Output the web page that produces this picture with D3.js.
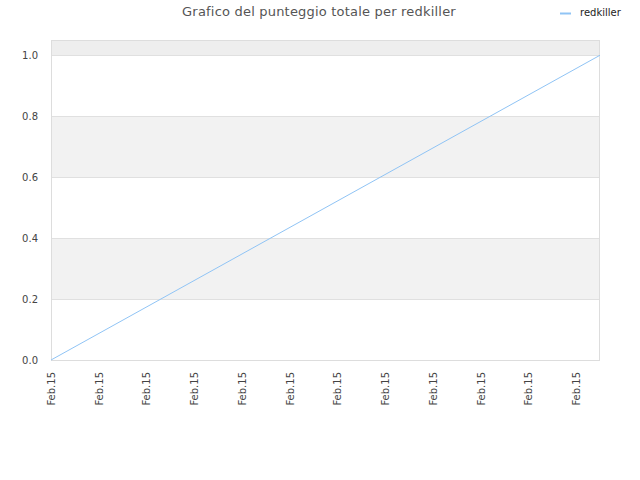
<!DOCTYPE html>
<html>
<head>
<meta charset="utf-8">
<script src="https://cdn.jsdelivr.net/npm/d3@7"></script>
<style>
  body { margin: 0; background: #fff; }
  text { font-family: "DejaVu Sans", sans-serif; }
</style>
</head>
<body>
<script>
// tick labels along the x axis (all the same day)
const xLabels = ['Feb.15','Feb.15','Feb.15','Feb.15','Feb.15','Feb.15',
                 'Feb.15','Feb.15','Feb.15','Feb.15','Feb.15','Feb.15'];
// series: position (in tick units) and score
const seriesX = [0, 11.5];
const seriesY = [0, 1];
const yTicks = [0, 0.2, 0.4, 0.6, 0.8, 1.0];
const seriesName = 'redkiller';

const width = 640, height = 480;
const plotLeft = 51, plotRight = 600, plotTop = 40, plotBottom = 360;

const svg = d3.select('body').append('svg')
  .attr('width', width)
  .attr('height', height);

const x = d3.scaleLinear().domain([0, 11.5]).range([plotLeft, plotRight]);
const y = d3.scaleLinear().domain([0, 1.05]).range([plotBottom, plotTop]);

// alternating bands
const bands = [[0.2, 0.4, '#f2f2f2'], [0.6, 0.8, '#f2f2f2'], [1.0, 1.05, '#eeeeee']];
svg.selectAll('rect.band')
  .data(bands)
  .enter()
  .append('rect')
  .attr('x', plotLeft)
  .attr('width', plotRight - plotLeft)
  .attr('y', d => y(d[1]))
  .attr('height', d => y(d[0]) - y(d[1]))
  .attr('fill', d => d[2]);

// grid lines
svg.selectAll('line.grid')
  .data(yTicks)
  .enter()
  .append('line')
  .attr('x1', plotLeft)
  .attr('x2', plotRight)
  .attr('y1', d => Math.round(y(d)) + 0.5)
  .attr('y2', d => Math.round(y(d)) + 0.5)
  .attr('stroke', '#e0e0e0');

// frame
svg.append('rect')
  .attr('x', plotLeft + 0.5)
  .attr('y', plotTop + 0.5)
  .attr('width', plotRight - plotLeft - 1)
  .attr('height', plotBottom - plotTop)
  .attr('fill', 'none')
  .attr('stroke', '#dddddd');

// y axis labels
const yAxis = svg.append('g')
  .attr('transform', `translate(${plotLeft},0)`)
  .call(d3.axisLeft(y).tickValues(yTicks).tickFormat(d3.format('.1f')).tickSize(0).tickPadding(13));
yAxis.select('.domain').remove();
yAxis.selectAll('text')
  .attr('fill', '#444')
  .style('font-size', '10px');

// x axis labels
const xAxis = svg.append('g')
  .attr('transform', `translate(0,${plotBottom})`)
  .call(d3.axisBottom(x).tickValues(d3.range(xLabels.length)).tickFormat(i => xLabels[i]).tickSize(0));
xAxis.select('.domain').remove();
xAxis.selectAll('text')
  .attr('fill', '#444')
  .style('font-size', '10px')
  .attr('text-anchor', 'end')
  .attr('transform', 'rotate(-90)')
  .attr('x', -12)
  .attr('y', 0)
  .attr('dy', '0.35em');

// series line
const pts = seriesX.map((v, i) => [v, seriesY[i]]);
svg.append('path')
  .datum(pts)
  .attr('fill', 'none')
  .attr('stroke', '#90c4f5')
  .attr('stroke-width', 1)
  .attr('d', d3.line().x(d => x(d[0])).y(d => y(d[1])));

// title
svg.append('text')
  .attr('x', 319)
  .attr('y', 16)
  .attr('text-anchor', 'middle')
  .attr('fill', '#555')
  .style('font-size', '13px')
  .style('letter-spacing', '0.2px')
  .text('Grafico del punteggio totale per ' + seriesName);

// legend
svg.append('line')
  .attr('x1', 560).attr('x2', 571)
  .attr('y1', 13.5).attr('y2', 13.5)
  .attr('stroke', '#90c4f5')
  .attr('stroke-width', 2);
svg.append('text')
  .attr('x', 580)
  .attr('y', 16)
  .attr('fill', '#222')
  .style('font-size', '10px')
  .text(seriesName);
</script>
</body>
</html>
